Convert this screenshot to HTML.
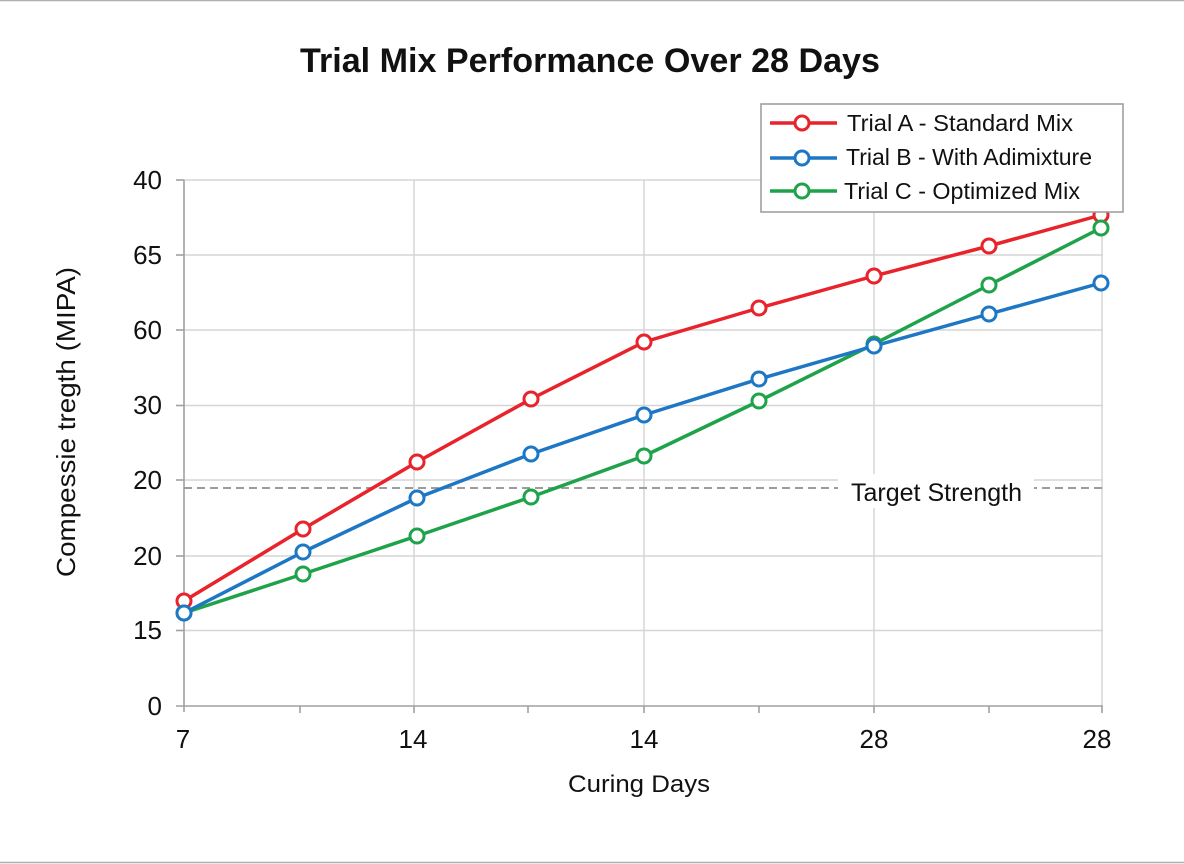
<!DOCTYPE html>
<html>
<head>
<meta charset="utf-8">
<style>
  html, body { margin: 0; padding: 0; background: #ffffff; }
  svg { display: block; }
  text { font-family: "Liberation Sans", Arial, sans-serif; fill: #111; }
</style>
</head>
<body>
<svg width="1184" height="864" viewBox="0 0 1184 864" xmlns="http://www.w3.org/2000/svg">
  <rect x="0" y="0" width="1184" height="864" fill="#ffffff"/>
  <line x1="0" y1="0.5" x2="1184" y2="0.5" stroke="#b0b0b0" stroke-width="1.5"/>
  <line x1="0" y1="862.5" x2="1184" y2="862.5" stroke="#b0b0b0" stroke-width="1.5"/>

  <!-- Title -->
  <text x="590" y="72" font-size="34" font-weight="bold" text-anchor="middle" textLength="580" lengthAdjust="spacingAndGlyphs">Trial Mix Performance Over 28 Days</text>

  <!-- horizontal gridlines -->
  <g stroke="#d6d6d6" stroke-width="1.5">
    <line x1="184" y1="180" x2="1103" y2="180"/>
    <line x1="184" y1="255" x2="1103" y2="255"/>
    <line x1="184" y1="330" x2="1103" y2="330"/>
    <line x1="184" y1="405.5" x2="1103" y2="405.5"/>
    <line x1="184" y1="480" x2="1103" y2="480"/>
    <line x1="184" y1="556" x2="1103" y2="556"/>
    <line x1="184" y1="630.5" x2="1103" y2="630.5"/>
    <!-- vertical gridlines -->
    <line x1="414" y1="180" x2="414" y2="706"/>
    <line x1="644" y1="180" x2="644" y2="706"/>
    <line x1="874" y1="180" x2="874" y2="706"/>
    <line x1="1102" y1="180" x2="1102" y2="706"/>
  </g>

  <!-- axes -->
  <g stroke="#a0a0a0" stroke-width="1.6">
    <line x1="184" y1="180" x2="184" y2="712"/>
    <line x1="176" y1="706" x2="1103" y2="706"/>
    <line x1="176" y1="180" x2="184" y2="180"/>
    <line x1="176" y1="255" x2="184" y2="255"/>
    <line x1="176" y1="330" x2="184" y2="330"/>
    <line x1="176" y1="405.5" x2="184" y2="405.5"/>
    <line x1="176" y1="480" x2="184" y2="480"/>
    <line x1="176" y1="556" x2="184" y2="556"/>
    <line x1="176" y1="630.5" x2="184" y2="630.5"/>
    <line x1="300" y1="706" x2="300" y2="713"/>
    <line x1="414" y1="706" x2="414" y2="713"/>
    <line x1="528" y1="706" x2="528" y2="713"/>
    <line x1="644" y1="706" x2="644" y2="713"/>
    <line x1="759" y1="706" x2="759" y2="713"/>
    <line x1="874" y1="706" x2="874" y2="713"/>
    <line x1="989" y1="706" x2="989" y2="713"/>
    <line x1="1102" y1="706" x2="1102" y2="713"/>
  </g>

  <!-- y tick labels -->
  <g font-size="26" text-anchor="end">
    <text x="162" y="189">40</text>
    <text x="162" y="264">65</text>
    <text x="162" y="339">60</text>
    <text x="162" y="414">30</text>
    <text x="162" y="489">20</text>
    <text x="162" y="565">20</text>
    <text x="162" y="639">15</text>
    <text x="162" y="715">0</text>
  </g>

  <!-- x tick labels -->
  <g font-size="26" text-anchor="middle">
    <text x="183" y="748">7</text>
    <text x="413" y="748">14</text>
    <text x="644" y="748">14</text>
    <text x="874" y="748">28</text>
    <text x="1097" y="748">28</text>
  </g>

  <!-- axis titles -->
  <text x="568" y="792" font-size="24" textLength="142" lengthAdjust="spacingAndGlyphs">Curing Days</text>
  <text transform="translate(75,422) rotate(-90)" font-size="26" text-anchor="middle" textLength="310" lengthAdjust="spacingAndGlyphs">Compessie tregth (MIPA)</text>

  <!-- target line -->
  <line x1="184" y1="488" x2="1102" y2="488" stroke="#9c9c9c" stroke-width="2" stroke-dasharray="8,5"/>
  <rect x="838" y="474" width="196" height="34" fill="#ffffff"/>
  <text x="851" y="501" font-size="25" textLength="171" lengthAdjust="spacingAndGlyphs">Target Strength</text>

  <!-- series -->
  <g fill="none" stroke-width="3.5" stroke-linejoin="round">
    <polyline stroke="#e8232b" points="184,601 303,529 417,462 531,399 644,342 759,308 874,276 989,246 1101,215"/>
    <polyline stroke="#1fa34a" points="184,613 303,574 417,536 531,497 644,456 759,401 874,344 989,285 1101,228"/>
    <polyline stroke="#1d77c4" points="184,613 303,552 417,498 531,454 644,415 759,379 874,346 989,314 1101,283"/>
  </g>
  <g fill="#ffffff" stroke-width="3" stroke="#e8232b">
    <circle cx="184" cy="601" r="7"/><circle cx="303" cy="529" r="7"/><circle cx="417" cy="462" r="7"/>
    <circle cx="531" cy="399" r="7"/><circle cx="644" cy="342" r="7"/><circle cx="759" cy="308" r="7"/>
    <circle cx="874" cy="276" r="7"/><circle cx="989" cy="246" r="7"/><circle cx="1101" cy="215" r="7"/>
  </g>
  <g fill="#ffffff" stroke-width="3" stroke="#1fa34a">
    <circle cx="184" cy="613" r="7"/><circle cx="303" cy="574" r="7"/><circle cx="417" cy="536" r="7"/>
    <circle cx="531" cy="497" r="7"/><circle cx="644" cy="456" r="7"/><circle cx="759" cy="401" r="7"/>
    <circle cx="874" cy="344" r="7"/><circle cx="989" cy="285" r="7"/><circle cx="1101" cy="228" r="7"/>
  </g>
  <g fill="#ffffff" stroke-width="3" stroke="#1d77c4">
    <circle cx="184" cy="613" r="7"/><circle cx="303" cy="552" r="7"/><circle cx="417" cy="498" r="7"/>
    <circle cx="531" cy="454" r="7"/><circle cx="644" cy="415" r="7"/><circle cx="759" cy="379" r="7"/>
    <circle cx="874" cy="346" r="7"/><circle cx="989" cy="314" r="7"/><circle cx="1101" cy="283" r="7"/>
  </g>

  <!-- legend -->
  <rect x="761" y="104" width="362" height="108" fill="#ffffff" stroke="#a0a0a0" stroke-width="1.6"/>
  <g stroke-width="3.5">
    <line x1="770" y1="123" x2="837" y2="123" stroke="#e8232b"/>
    <circle cx="802" cy="123" r="7" fill="#ffffff" stroke="#e8232b" stroke-width="3"/>
    <line x1="770" y1="158" x2="837" y2="158" stroke="#1d77c4"/>
    <circle cx="802" cy="158" r="7" fill="#ffffff" stroke="#1d77c4" stroke-width="3"/>
    <line x1="770" y1="191" x2="837" y2="191" stroke="#1fa34a"/>
    <circle cx="802" cy="191" r="7" fill="#ffffff" stroke="#1fa34a" stroke-width="3"/>
  </g>
  <g font-size="23">
    <text x="847" y="131" textLength="226" lengthAdjust="spacingAndGlyphs">Trial A - Standard Mix</text>
    <text x="846" y="165" textLength="246" lengthAdjust="spacingAndGlyphs">Trial B - With Adimixture</text>
    <text x="844" y="199" textLength="236" lengthAdjust="spacingAndGlyphs">Trial C - Optimized Mix</text>
  </g>
</svg>
</body>
</html>
